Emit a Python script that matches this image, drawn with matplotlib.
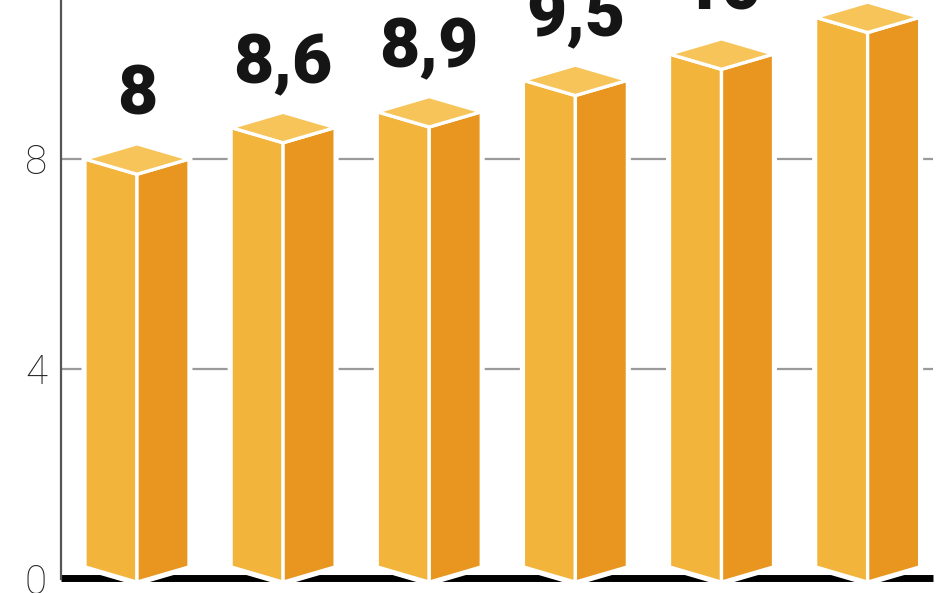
import matplotlib
matplotlib.use("Agg")
import matplotlib.pyplot as plt
from matplotlib.patches import Polygon

# values (last label is cut off at the top)
values = [8.0, 8.6, 8.9, 9.5, 10.0, 10.7]
labels = ["8", "8,6", "8,9", "9,5", "10", "10,7"]
y_ticks = [0, 4, 8]
y_tick_labels = ["0", "4", "8"]

LEFT_FACE = "#F3B43C"
RIGHT_FACE = "#E8961F"
TOP_FACE = "#F6C458"

fig = plt.figure(figsize=(9.48, 5.93), dpi=100)
ax = fig.add_axes([61 / 948, 0, 887 / 948, 1])
ax.set_xlim(-0.52, 5.55)
ax.set_ylim(-0.267, 11.03)

half_w = 0.356   # half bar width (x units)
depth = 0.29     # half height of the top rhombus (y units)
bottom_front = -0.06

# gridlines and black baseline behind the bars
ax.hlines([4, 8], -0.52, 5.45, color="#9a9a9a", lw=1.6, zorder=1)
ax.hlines(0.01, -0.52, 5.45, color="black", lw=5, zorder=2)

for i, v in enumerate(values):
    x = i
    top_front = v - depth
    top_back = v + depth
    bot_side = bottom_front + depth
    hull = [(x - half_w, bot_side), (x - half_w, v), (x, top_back),
            (x + half_w, v), (x + half_w, bot_side), (x, bottom_front)]
    ax.add_patch(Polygon(hull, closed=True, facecolor="white",
                         edgecolor="white", lw=5, joinstyle="miter", zorder=3))
    left = [(x - half_w, bot_side), (x - half_w, v), (x, top_front), (x, bottom_front)]
    right = [(x, bottom_front), (x, top_front), (x + half_w, v), (x + half_w, bot_side)]
    top = [(x - half_w, v), (x, top_back), (x + half_w, v), (x, top_front)]
    for pts, col in [(left, LEFT_FACE), (right, RIGHT_FACE), (top, TOP_FACE)]:
        ax.add_patch(Polygon(pts, closed=True, facecolor=col, edgecolor="white",
                             lw=2.4, joinstyle="miter", zorder=4))
    ax.text(x, v + 0.84, labels[i], ha="center", va="baseline",
            fontsize=50, fontweight="heavy", family="Roboto", color="#151515",
            clip_on=False, zorder=5)

# axes styling
for side in ["top", "right", "bottom"]:
    ax.spines[side].set_visible(False)
ax.spines["left"].set_color("#555555")
ax.spines["left"].set_linewidth(1.6)
ax.spines["left"].set_bounds(0, 11.03)
ax.set_xticks([])
ax.set_yticks(y_ticks)
ax.set_yticklabels(y_tick_labels, family="Roboto", fontweight="light",
                   fontsize=29, color="#222222")
ax.tick_params(axis="y", length=0, pad=10)

fig.savefig("out.png", dpi=100)
